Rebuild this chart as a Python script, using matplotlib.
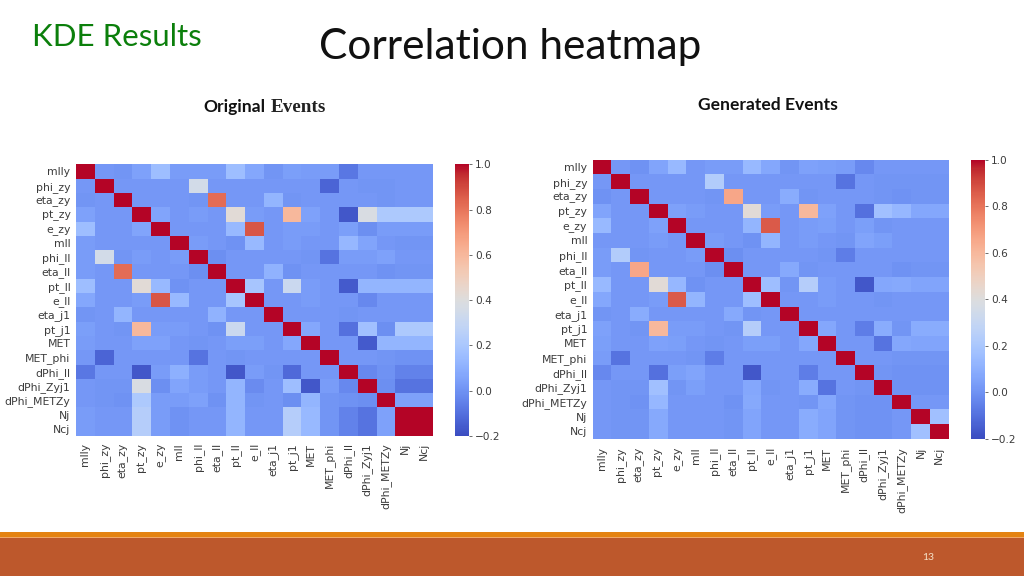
import numpy as np
import matplotlib
matplotlib.use('Agg')
from matplotlib import pyplot as plt
from matplotlib.patches import Rectangle

W, H = 1024, 576

labels = ['mlly', 'phi_zy', 'eta_zy', 'pt_zy', 'e_zy', 'mll', 'phi_ll', 'eta_ll', 'pt_ll', 'e_ll',
          'eta_j1', 'pt_j1', 'MET', 'MET_phi', 'dPhi_ll', 'dPhi_Zyj1', 'dPhi_METZy', 'Nj', 'Ncj']
cbar_ticks = [-0.2, 0.0, 0.2, 0.4, 0.6, 0.8, 1.0]
cbar_labels = ['\u22120.2', '0.0', '0.2', '0.4', '0.6', '0.8', '1.0']

# values
original = [
    [1, .02, .01, .05, .16, .03, .03, .03, .16, .07, .01, .04, .03, .03, -.08, .02, .02, .02, .02],
    [.02, 1, .02, .02, .02, .02, .35, .02, .02, .02, .02, .02, .02, -.13, .02, .01, .01, .02, .02],
    [.01, .02, 1, .02, .02, .02, .01, .82, .02, .02, .12, .01, .02, .02, .02, .02, .01, .02, .02],
    [.05, .02, .02, 1, .06, .02, .03, .02, .42, .03, .02, .6, .05, .02, -.17, .38, .21, .21, .21],
    [.16, .02, .02, .06, 1, .02, .02, .02, .14, .87, .02, .03, .03, .02, .04, -.01, .03, .03, .03],
    [.03, .02, .02, .02, .02, 1, .03, .02, .0, .14, .02, .03, .02, .02, .13, .06, .02, .01, .01],
    [.03, .35, .01, .03, .02, .03, 1, -.01, .02, .02, .02, .02, .01, -.09, .03, .03, .05, .02, .02],
    [.03, .02, .82, .02, .02, .02, -.01, 1, .02, .02, .11, .0, .02, .02, .02, .02, .0, .01, .01],
    [.16, .02, .02, .42, .14, .0, .02, .02, 1, .19, .02, .32, .03, .02, -.16, .12, .12, .12, .12],
    [.07, .02, .02, .03, .87, .14, .02, .02, .19, 1, .02, .02, .03, .02, .02, -.03, .02, .02, .02],
    [.01, .02, .12, .02, .02, .02, .02, .11, .02, .02, 1, .02, .02, .02, .01, .02, .02, .02, .02],
    [.04, .02, .01, .6, .03, .03, .02, .0, .32, .02, .02, 1, .07, .02, -.1, .17, -.01, .21, .21],
    [.03, .02, .02, .05, .05, .02, .01, .02, .04, .04, .02, .07, 1, .02, .02, -.16, .12, .12, .12],
    [.02, -.13, .02, .02, .02, .02, -.09, .02, .01, .02, .02, .02, .02, 1, .02, .02, .01, .0, .0],
    [-.08, .02, .02, -.17, .03, .1, .03, .02, -.17, .03, .01, -.12, .02, .02, 1, -.03, .0, -.05, -.05],
    [.02, .01, .01, .38, -.01, .06, .03, .02, .12, -.02, .02, .16, -.17, .03, -.03, 1, -.01, -.09, -.09],
    [.02, .01, .0, .21, .03, .03, .05, .0, .12, .01, .02, -.01, .12, .01, .0, -.01, 1, .05, .05],
    [.03, .02, .02, .24, .03, .0, .02, .02, .12, .02, .02, .24, .14, .01, -.05, -.09, .05, 1, 1],
    [.03, .02, .02, .24, .03, .0, .02, .02, .12, .02, .02, .24, .14, .01, -.05, -.09, .05, 1, 1],
]

# values
generated = [
    [1, .02, .0, .06, .14, .02, .03, .03, .14, .07, .01, .05, .04, .03, -.03, .02, .02, .02, .02],
    [.02, 1, .02, .02, .02, .02, .23, .02, .02, .02, .02, .02, .02, -.09, .02, .01, .01, .01, .01],
    [.0, .02, 1, .02, .02, .02, .01, .66, .02, .02, .09, .01, .02, .02, .02, .01, .0, .01, .01],
    [.06, .02, .02, 1, .05, .03, .02, .02, .42, .03, .02, .6, .05, .02, -.1, .17, .13, .07, .07],
    [.14, .02, .02, .05, 1, .02, .02, .02, .12, .86, .02, .03, .04, .02, .04, .01, .02, .02, .02],
    [.02, .02, .02, .03, .02, 1, .03, .02, .0, .12, .02, .03, .02, .01, .06, .04, .02, .02, .02],
    [.03, .23, .01, .02, .02, .03, 1, -.01, .02, .02, .02, .02, .01, -.06, .02, .02, .02, .02, .02],
    [.03, .02, .66, .02, .02, .02, -.01, 1, .02, .02, .08, .01, .02, .02, .02, .02, .0, .01, .01],
    [.14, .02, .02, .42, .13, .0, .02, .02, 1, .16, .01, .24, .03, .02, -.17, .07, .08, .06, .06],
    [.07, .02, .02, .03, .86, .12, .02, .02, .16, 1, .02, .02, .03, .02, .02, .01, .02, .02, .02],
    [.01, .02, .09, .02, .02, .02, .02, .08, .01, .02, 1, .02, .02, .02, .02, .02, .02, .02, .02],
    [.05, .02, .01, .6, .03, .03, .02, .01, .24, .02, .02, 1, .07, .02, -.06, .09, .01, .09, .09],
    [.04, .02, .02, .05, .04, .02, .01, .02, .04, .04, .02, .07, 1, .02, .02, -.09, .07, .06, .06],
    [.03, -.09, .02, .02, .02, .01, -.06, .02, .02, .02, .02, .02, .02, 1, .02, .02, .01, .01, .01],
    [-.03, .02, .02, -.1, .04, .06, .02, .02, -.17, .02, .02, -.06, .02, .02, 1, .01, .0, .0, .0],
    [.02, .01, .01, .17, .01, .04, .02, .02, .07, .01, .02, .09, -.09, .02, .01, 1, .0, .0, .0],
    [.02, .01, .0, .13, .02, .02, .02, .0, .08, .02, .02, .01, .07, .01, .0, .0, 1, .02, .02],
    [.02, .01, .01, .08, .02, .02, .02, .01, .06, .02, .02, .09, .06, .01, .0, .0, .02, 1, .17],
    [.02, .01, .01, .08, .02, .02, .02, .01, .06, .02, .02, .09, .06, .01, .0, .0, .02, .17, 1],
]


def px_axes(fig, x0, y0, x1, y1):
    # axes from pixel box, y counted from the top
    return fig.add_axes([x0 / W, 1 - y1 / H, (x1 - x0) / W, (y1 - y0) / H])


def plot_heatmap(fig, values, box, cbar_box, pad_x):
    ax = px_axes(fig, *box)
    mesh = ax.pcolormesh(np.array(values), cmap='coolwarm', vmin=-0.2, vmax=1.0)
    ax.invert_yaxis()
    pos = np.arange(len(labels)) + 0.5
    ax.set_xticks(pos)
    ax.set_xticklabels(labels, rotation=90, fontsize=7.8, color='#3c3c3c')
    ax.set_yticks(pos)
    ax.set_yticklabels(labels, rotation=0, fontsize=7.8, color='#3c3c3c')
    ax.tick_params(axis='x', length=0, pad=pad_x)
    ax.tick_params(axis='y', length=0, pad=4)
    for s in ax.spines.values():
        s.set_visible(False)

    cax = px_axes(fig, *cbar_box)
    cb = fig.colorbar(mesh, cax=cax)
    cb.set_ticks(cbar_ticks)
    cb.set_ticklabels(cbar_labels)
    cb.ax.tick_params(length=2, width=0.6, pad=2.5, labelsize=7.6, labelcolor='#3c3c3c', color='#555555')
    cb.outline.set_visible(False)


fig = plt.figure(figsize=(W / 100, H / 100), dpi=100, facecolor='white')

# slide background, title and footer in pixel coordinates
bg = fig.add_axes([0, 0, 1, 1])
bg.set_xlim(0, W)
bg.set_ylim(H, 0)
bg.axis('off')
bg.add_patch(Rectangle((0, 532), W, 5, color='#E48312', lw=0))
bg.add_patch(Rectangle((0, 537), W, 1.2, color='#F0A868', lw=0))
bg.add_patch(Rectangle((0, 538), W, 38, color='#BD582C', lw=0))

bg.text(32, 37, 'KDE Results', family='Lato', fontsize=22.5, color='#0B7F0B', va='center', ha='left')
bg.text(319, 47, 'Correlation heatmap', family='Lato', fontsize=30.5, color='#111111', va='center', ha='left')
bg.text(203, 112, 'Original', family='Lato', fontsize=12.6, fontweight='bold', color='#111111', va='baseline')
bg.text(271, 112, 'Events', family='Liberation Serif', fontsize=13.8, fontweight='bold', color='#222222', va='baseline')
bg.text(698, 110, 'Generated Events', family='Lato', fontsize=12.6, fontweight='bold', color='#111111', va='baseline')
bg.text(928, 558, '13', family='Lato', fontsize=7.5, color='#F5E2C8', va='center', ha='center')

plot_heatmap(fig, original, (76, 164.3, 433, 436), (454.7, 164.3, 468.7, 436), 5)
plot_heatmap(fig, generated, (592.7, 159.7, 948.7, 438.7), (970.7, 159.7, 984.7, 438.7), 6)

plt.savefig('out.png', dpi=100)
plt.close()
